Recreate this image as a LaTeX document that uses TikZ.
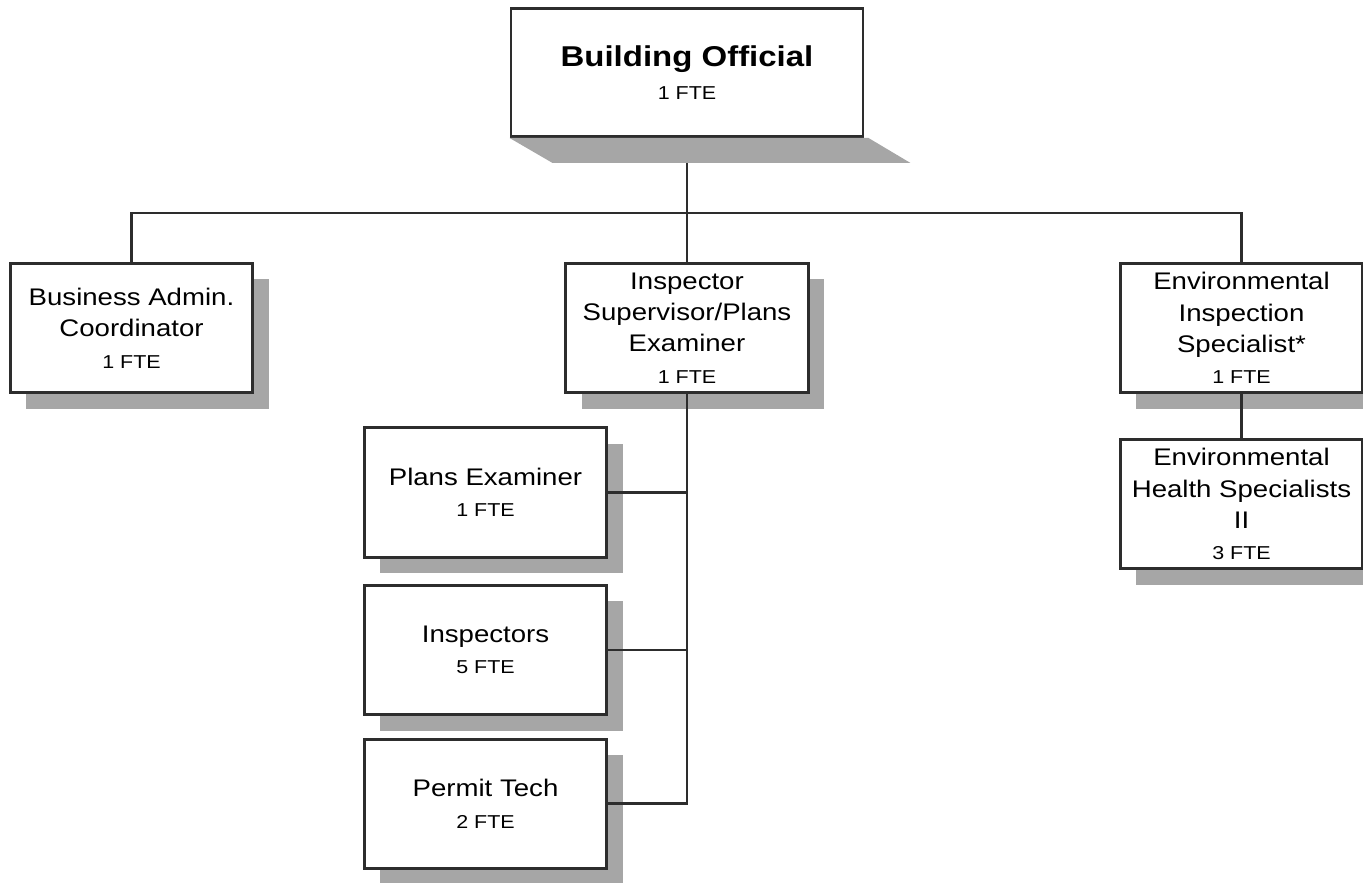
\documentclass[tikz,border=0pt]{standalone}
\usepackage{fontspec}
\setmainfont{Liberation Sans}[FakeStretch=1.15]
\usetikzlibrary{positioning, shadows}

\definecolor{shadowgray}{RGB}{166,166,166}
\definecolor{linegray}{RGB}{45,45,45}

\newcommand{\fte}[1]{{\fontsize{14}{23.5}\selectfont #1}}

\begin{document}
\begin{tikzpicture}[
    x=0.75pt, y=-0.75pt,
    node distance=19pt,
    box/.style={
        rectangle,
        draw=linegray,
        line width=2.2pt,
        fill=white,
        minimum width=182pt,
        minimum height=97pt,
        align=center,
        inner sep=2pt,
        font=\fontsize{18}{23.5}\selectfont,
        drop shadow={shadow xshift=12pt, shadow yshift=-12pt, fill=shadowgray, opacity=1}
    },
    bossbox/.style={
        rectangle,
        draw=linegray,
        line width=2.2pt,
        fill=white,
        minimum width=264pt,
        minimum height=96pt,
        align=center,
        font=\fontsize{21.5}{27}\selectfont\bfseries
    },
    link/.style={draw=linegray, line width=2pt}
]
\useasboundingbox (0,0) rectangle (1363,882);

% Top
\node[bossbox] (boss) at (687,72.5) {Building Official\\[-2pt]\mdseries\fte{1 FTE}};

% Second row
\node[box] (admin) at (131.5,328) {Business Admin.\\Coordinator\\\fte{1 FTE}};
\node[box] (super) at (687,328) {Inspector\\Supervisor/Plans\\Examiner\\\fte{1 FTE}};
\node[box] (envspec) at (1241.5,328) {Environmental\\Inspection\\Specialist*\\\fte{1 FTE}};
\node[box, below=33pt of envspec] (envhealth) {Environmental\\Health Specialists\\II\\\fte{3 FTE}};

% Under the supervisor
\node[box] (plans) at (485.5,492.5) {Plans Examiner\\\fte{1 FTE}};
\node[box, below=of plans] (inspectors) {Inspectors\\\fte{5 FTE}};
\node[box, below=16pt of inspectors] (permit) {Permit Tech\\\fte{2 FTE}};

% Lines
\coordinate (bus) at (687,213);
\draw[link] (boss) -- (bus);
\draw[link] (admin.north) |- (bus) -| (envspec.north);
\draw[link] (bus) -- (super.north);
\draw[link] (envspec) -- (envhealth);
\draw[link] (super.south) |- (permit.east);
\draw[link] (plans.east) -- (plans.east -| super.south);
\draw[link] (inspectors.east) -- (inspectors.east -| super.south);

% Shadow under the top box
\fill[shadowgray] (boss.south west) -- ([xshift=3pt]boss.south east)
    -- ([shift={(46,25)}]boss.south east) -- ([shift={(43,25)}]boss.south west) -- cycle;

\end{tikzpicture}
\end{document}
